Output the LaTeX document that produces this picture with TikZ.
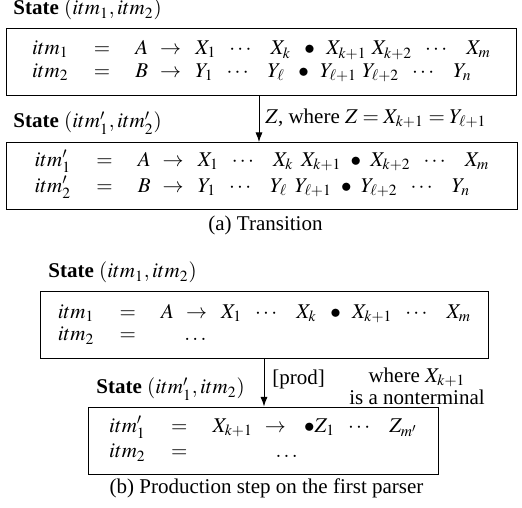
\documentclass[tikz,border=0pt]{standalone}
\usepackage{mathptmx}
\usepackage[no-math]{fontspec}
\setmainfont{Liberation Serif}
\usetikzlibrary{arrows.meta}
\renewcommand{\arraystretch}{0.9}
\newcommand{\rto}{\hspace{3.5pt}\rightarrow\hspace{4.5pt}}
\newcommand{\cds}{\hspace{5pt}\cdots\hspace{8pt}}
\newcommand{\bul}{\hspace{5pt}\bullet\hspace{4pt}}
\newcommand{\pitm}[1]{itm'_{\raisebox{1.6pt}{$\scriptstyle #1$}}}

\begin{document}
\begin{tikzpicture}[x=0.4762pt,y=-0.4762pt,
  box/.style={draw,line width=0.45pt,inner sep=0pt,minimum height=31.9pt},
  arr/.style={-{Latex[length=4.6pt,width=3.4pt]},line width=0.45pt},
  state/.style={anchor=base west,inner sep=0pt},
  lbl/.style={anchor=base west,inner sep=0pt},
  subcap/.style={anchor=base,inner sep=0pt}
]
\useasboundingbox (0,0) rectangle (522,508);
\coordinate (ta) at (259,0);
\coordinate (tb) at (264,0);

\node[state] (s1) at (13,15) {\textbf{State} $(itm_1, itm_2)$};
\node[box,minimum width=242.6pt] (b1) at (261.5,61.5) {\begin{tabular}{@{}lcl@{}}
$itm_1$ & $=$ & $A\rto X_1\cds X_k\bul X_{k+1}\ X_{k+2}\cds X_m$\\
$itm_2$ & $=$ & $B\rto Y_1\cds Y_\ell\bul Y_{\ell+1}\ Y_{\ell+2}\cds Y_n$
\end{tabular}};
\node[state] (s2) at (13,128) {\textbf{State} $(\pitm{1}, \pitm{2})$};
\node[box,minimum width=242.9pt] (b2) at (262,176) {\begin{tabular}{@{}lcl@{}}
$\pitm{1}$ & $=$ & $A\rto X_1\cds X_k\ \,X_{k+1}\hspace{3pt}\bullet\hspace{3pt}X_{k+2}\cds X_m$\\[1.2pt]
$\pitm{2}$ & $=$ & $B\rto Y_1\cds Y_\ell\ \,Y_{\ell+1}\hspace{3pt}\bullet\hspace{3pt}Y_{\ell+2}\cds Y_n$
\end{tabular}};
\draw[arr] (b1.south -| ta) -- node[lbl,pos=0.6,xshift=2.8pt] (z) {$Z$, where $Z = X_{k+1} = Y_{\ell+1}$} (b2.north -| ta);
\node[subcap] (ca) at (265.5,231) {(a) Transition};

\node[state] (s3) at (48,278) {\textbf{State} $(itm_1, itm_2)$};
\node[box,minimum width=212.9pt] (b3) at (264.5,325) {\begin{tabular}{@{}lcl@{}}
$itm_1$ & $=$ & $A\rto X_1\cds X_k\bul X_{k+1}\cds X_m$\\
$itm_2$ & $=$ & \hspace{11pt}$\ldots$
\end{tabular}};
\node[state] (s4) at (96,394) {\textbf{State} $(\pitm{1}, itm_2)$};
\node[box,minimum width=167.1pt] (b4) at (263.5,440.5) {\begin{tabular}{@{}lcl@{}}
$\pitm{1}$ & $=$ & $X_{k+1}\rto\hspace{2pt}\bullet Z_1\cds Z_{m'}$\\
$itm_2$ & $=$ & \hspace{30pt}$\ldots$
\end{tabular}};
\draw[arr] (b3.south -| tb) -- node[lbl,pos=0.53,xshift=3.8pt] (pr) {[prod]} (b4.north -| tb);
\node[align=center,inner sep=0pt] (nt) at (417,386) {where $X_{k+1}$\\[-1.5pt] is a nonterminal};
\node[subcap] (cb) at (266.5,494) {(b) Production step on the first parser};
\end{tikzpicture}
\end{document}
